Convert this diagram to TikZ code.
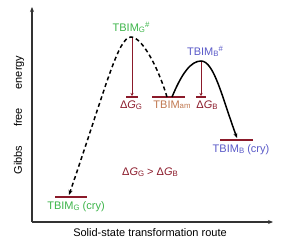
\documentclass[tikz,border=0pt]{standalone}
\usepackage{fontspec}
\setmainfont{Liberation Sans}
\usetikzlibrary{arrows.meta}
\definecolor{cgreen}{HTML}{3DB54A}
\definecolor{cblue}{HTML}{5A5AC8}
\definecolor{cbrown}{HTML}{C07850}
\definecolor{cred}{HTML}{8B1A2A}
\definecolor{caxis}{HTML}{333333}
\newcommand\smallsub[1]{\raisebox{-0.4pt}{\fontsize{7.8}{8}\selectfont #1}}
\newcommand\hashsup{\raisebox{4.5pt}{\fontsize{7.8}{8}\selectfont\#}}
\begin{document}
\begin{tikzpicture}[x=1pt,y=1pt,
  lbl/.style={font=\fontsize{11}{13}\selectfont, inner sep=0pt},
  level/.style={draw=cred, line width=1.6pt},
  gap/.style={draw=cred, line width=0.6pt, -{Stealth[length=3pt,width=3pt]}},
  axis/.style={draw=caxis, line width=1.1pt},
  curve/.style={line width=1.5pt, black}]
\useasboundingbox (0,0) rectangle (287,247);
% axes
\coordinate (O) at (32,25);
\coordinate (Ytop) at (32,240);
\coordinate (Xend) at (273,25);
\draw[axis, -{Stealth[length=5pt,width=4pt]}] (O) -- (Ytop);
\draw[axis, -{Stealth[length=5pt,width=4pt]}] (O) -- (Xend);
\node[lbl, rotate=90] (ylab) at (19,132) {Gibbs\hspace{1.7em}free\hspace{1.7em}energy};
\node[lbl] (xlab) at (150,14) {Solid-state transformation route};
% levels
\coordinate (gc1) at (55,50); \coordinate (gc2) at (87,50);
\coordinate (am1) at (152,150); \coordinate (am2) at (185,150);
\coordinate (bc1) at (220,107); \coordinate (bc2) at (253,107);
\draw[level] (gc1) -- (gc2);
\draw[level] (am1) -- (am2);
\draw[level] (bc1) -- (bc2);
% barrier bars
\coordinate (gbar1) at (126,150); \coordinate (gbar2) at (138,150);
\coordinate (bbar1) at (196,150); \coordinate (bbar2) at (206,150);
\draw[cred, line width=1.2pt] (gbar1) -- (gbar2);
\draw[cred, line width=1.2pt] (bbar1) -- (bbar2);
% peaks
\coordinate (pG) at (131,210);
\coordinate (pB) at (201,186);
\coordinate (amS) at (167,150);
\coordinate (amB) at (172,150);
\coordinate (gEnd) at (69,52);
\coordinate (bEnd) at (237,109);
% dashed path
\draw[curve, dash pattern=on 4pt off 3pt, -{Stealth[length=5pt,width=4pt]}]
  (amS) .. controls (158,180) and (142,210) .. (pG)
  .. controls (118,210) and (106,160) .. (gEnd);
% solid path
\draw[curve, -{Stealth[length=5pt,width=4pt]}]
  (amB) .. controls (182,174) and (191,186) .. (pB)
  .. controls (214,186) and (222,150) .. (bEnd);
% barrier arrows
\coordinate (gTop) at (132,209); \coordinate (gBot) at (132,151);
\coordinate (bTop) at (201,185); \coordinate (bBot) at (201,151);
\draw[gap] (gTop) -- (gBot);
\draw[gap] (bTop) -- (bBot);
% labels
\node[lbl, text=cgreen] (tG) at (131,220) {TBIM\smallsub{G}\hashsup};
\node[lbl, text=cblue] (tB) at (205,196) {TBIM\smallsub{B}\hashsup};
\node[lbl, text=cbrown] (tam) at (172,142) {TBIM\smallsub{am}};
\node[lbl, text=cred] (dG) at (131,142) {Δ\textit{G}\smallsub{G}};
\node[lbl, text=cred] (dB) at (207,142) {Δ\textit{G}\smallsub{B}};
\node[lbl, text=cgreen] (tGc) at (76,40) {TBIM\smallsub{G} (cry)};
\node[lbl, text=cblue] (tBc) at (241,97) {TBIM\smallsub{B} (cry)};
\node[lbl, text=cred] (cmp) at (150,75) {Δ\textit{G}\smallsub{G} > Δ\textit{G}\smallsub{B}};
\end{tikzpicture}
\end{document}
